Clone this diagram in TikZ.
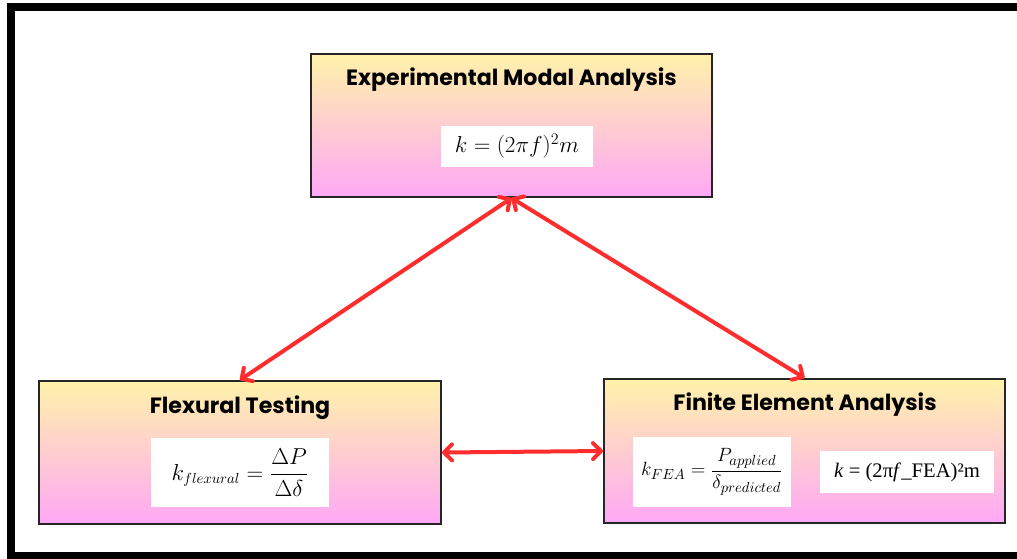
\documentclass[tikz,border=0pt]{standalone}
\usepackage{fontspec}
\usepackage{amsmath}
\setmainfont{Liberation Serif}
\newfontfamily\headfont{Poppins}
\newfontfamily\timesfont{Liberation Serif}
\usetikzlibrary{arrows.meta,shadings}
\definecolor{topyellow}{RGB}{255,242,170}
\definecolor{botpink}{RGB}{255,168,246}
\definecolor{arrowred}{RGB}{255,45,45}
\tikzset{
  panel/.style={draw=black!85, line width=1.5pt, rectangle, top color=topyellow, bottom color=botpink, inner sep=0pt},
  formula/.style={fill=white, draw=none, rectangle, inner sep=0pt},
  heading/.style={font=\headfont\bfseries\fontsize{16.6}{19}\selectfont, anchor=base, inner sep=0pt},
  link/.style={draw=arrowred, line width=3pt, line cap=round,
    {Straight Barb[length=6pt,width=12pt,line cap=round,line join=round]}-{Straight Barb[length=6pt,width=12pt,line cap=round,line join=round]}},
}
\begin{document}
\begin{tikzpicture}[x=0.75pt,y=-0.75pt]
\useasboundingbox (0,0) rectangle (1017,558);
% outer frame (right edge runs off the page)
\draw[line width=6pt, black] (11,7) rectangle (1030,556);

% panels
\node[panel, minimum width=300.75pt, minimum height=107.25pt] (ema) at (511.5,125.5) {};
\node[panel, minimum width=301.5pt, minimum height=107.25pt] (flex) at (240,452.5) {};
\node[panel, minimum width=300.75pt, minimum height=108pt] (fea) at (804.5,451) {};

% headings
\node[heading] (emat) at (511.5,85) {Experimental Modal Analysis};
\node[heading] (flext) at (240,413) {Flexural Testing};
\node[heading] (feat) at (805,410) {Finite Element Analysis};

% formula boxes
\node[formula, minimum width=114pt, minimum height=30.75pt] (emaf) at (517,146.5)
  {\fontsize{17.2}{19}\selectfont $k=(2\pi f)^2m$};
\node[formula, minimum width=133.5pt, minimum height=51.75pt] (flexf) at (240,472.5)
  {\fontsize{16}{19}\selectfont $k_{flexural}=\dfrac{\Delta P}{\Delta\delta}$};
\node[formula, minimum width=118.5pt, minimum height=52.5pt] (feaf) at (712,472)
  {\fontsize{15}{17}\selectfont $k_{FEA}=\dfrac{P_{applied}}{\delta_{predicted}}$};
\node[formula, minimum width=130.5pt, minimum height=31.5pt] (feaw) at (907,472)
  {\timesfont\fontsize{15.5}{17}\selectfont \textit{k} = (2π\textit{f}\_FEA)²m};

% connectors
\draw[link] (ema.south) -- (flex.north);
\draw[link] (ema.south) -- (fea.north);
\draw[link] (flex.east) -- (fea.west);
\end{tikzpicture}
\end{document}
